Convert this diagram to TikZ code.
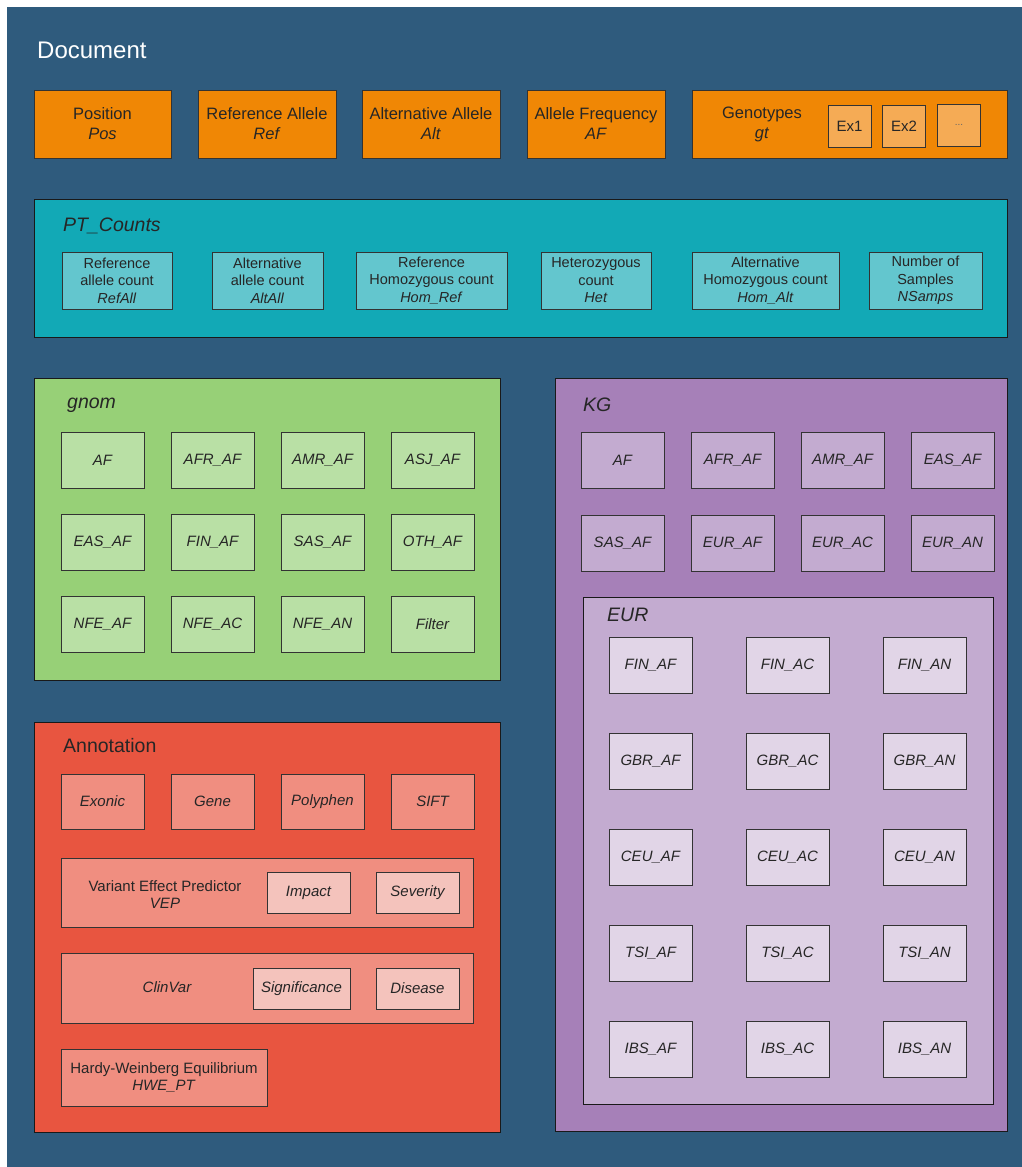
\documentclass[tikz,border=0pt]{standalone}
\usepackage{fontspec}
\setmainfont{Liberation Sans}
\definecolor{docblue}{HTML}{2F5B7D}
\definecolor{dorange}{HTML}{F08705}
\definecolor{lorange}{HTML}{F5AB55}
\definecolor{dteal}{HTML}{12A9B6}
\definecolor{lteal}{HTML}{63C6CE}
\definecolor{dgreen}{HTML}{97D077}
\definecolor{lgreen}{HTML}{B9E0A5}
\definecolor{dpurple}{HTML}{A680B8}
\definecolor{lpurple}{HTML}{C3ABD0}
\definecolor{vlpurple}{HTML}{E1D5E7}
\definecolor{dred}{HTML}{E85540}
\definecolor{lred}{HTML}{F08E80}
\definecolor{vlred}{HTML}{F4C3BC}

\begin{document}
\begin{tikzpicture}[x=1pt, y=-1pt,
    every node/.style={text=black!85},
    group/.style={draw=black!90, line width=1.2pt, anchor=north west, inner sep=0pt},
    item/.style={draw=black!80, line width=1pt, align=center, inner sep=0pt,
        font=\fontsize{15}{17.5}\selectfont},
    topbox/.style={item, fill=dorange, minimum width=138, minimum height=68,
        font=\fontsize{16.5}{20}\selectfont},
    ptbox/.style={item, fill=lteal, minimum height=57, font=\fontsize{14.5}{17.5}\selectfont},
    cell/.style={item, minimum width=83, minimum height=56, font=\fontsize{15}{17.5}\selectfont\itshape},
    grouptitle/.style={anchor=west, inner sep=0pt, font=\fontsize{19.5}{22}\selectfont\itshape}]

    \fill[white] (0,0) rectangle (1022,1167);
    \useasboundingbox (0,0) rectangle (1022,1167);
    \fill[docblue] (7,7) rectangle (1022,1167);

    \node[anchor=west, inner sep=0pt, text=white, font=\fontsize{24}{28}\selectfont]
        (doctitle) at (37,50) {Document};

    \node[topbox, minimum width=137] (pos) at (102.5,124) {Position\\\textit{Pos}};
    \node[topbox] (ref) at (267,124) {Reference Allele\\\textit{Ref}};
    \node[topbox] (alt) at (431,124) {Alternative Allele\\\textit{Alt}};
    \node[topbox] (af) at (596,124) {Allele Frequency\\\textit{AF}};
    \node[topbox, minimum width=315] (gt) at (849.5,124) {};
    \node[align=center, font=\fontsize{16.5}{20}\selectfont]
        (gtlabel) at (762,124) {Genotypes\\\textit{gt}};
    \node[item, fill=lorange, minimum width=43, minimum height=42] (ex1) at (849.5,126) {Ex1};
    \node[item, fill=lorange, minimum width=43, minimum height=42] (ex2) at (904,126) {Ex2};
    \node[item, fill=lorange, minimum width=43, minimum height=42,
        font=\fontsize{10}{12}\selectfont, text=black!60] (exmore) at (959,125) {...};

    \node[group, fill=dteal, minimum width=973, minimum height=138] (ptc) at (34,199) {};
    \node[grouptitle] (ptctitle) at (63,226) {PT\_Counts};
    \foreach \name/\cx/\w/\txt in {
        refall/117/110/{Reference\\allele count\\\textit{RefAll}},
        altall/267.5/111/{Alternative\\allele count\\\textit{AltAll}},
        homref/431.5/151/{Reference\\Homozygous count\\\textit{Hom\_Ref}},
        het/596/110/{Heterozygous\\count\\\textit{Het}},
        homalt/765.5/147/{Alternative\\Homozygous count\\\textit{Hom\_Alt}},
        nsamps/925.5/113/{Number of\\Samples\\\textit{NSamps}}}
        \node[ptbox, minimum width=\w] (\name) at (\cx,280.5) {\txt};

    \node[group, fill=dgreen, minimum width=466, minimum height=302] (gnom) at (34,378) {};
    \node[grouptitle] (gnomtitle) at (67,405) {gnom};
    \foreach \lab [count=\i from 0] in {AF, AFR\_AF, AMR\_AF, ASJ\_AF,
        EAS\_AF, FIN\_AF, SAS\_AF, OTH\_AF, NFE\_AF, NFE\_AC, NFE\_AN, Filter}
        \node[cell, fill=lgreen] (gnom\i) at ({102.5+110*mod(\i,4)}, {460+82*int(\i/4)}) {\lab};

    \node[group, fill=dpurple, minimum width=452, minimum height=753] (kg) at (555,378) {};
    \node[grouptitle] (kgtitle) at (583,405) {KG};
    \foreach \lab [count=\i from 0] in {AF, AFR\_AF, AMR\_AF, EAS\_AF,
        SAS\_AF, EUR\_AF, EUR\_AC, EUR\_AN}
        \node[cell, fill=lpurple] (kg\i) at ({622.5+110*mod(\i,4)}, {460+83.5*int(\i/4)}) {\lab};

    \node[group, fill=lpurple, minimum width=410, minimum height=507] (eur) at (583,597) {};
    \node[grouptitle] (eurtitle) at (607,615) {EUR};
    \foreach \pop [count=\r from 0] in {FIN, GBR, CEU, TSI, IBS}
        \foreach \stat [count=\c from 0] in {AF, AC, AN}
            \node[cell, fill=vlpurple] (\pop\stat) at ({650.5+137*\c}, {665+96*\r}) {\pop\_\stat};

    \node[group, fill=dred, minimum width=466, minimum height=410] (annot) at (34,722) {};
    \node[grouptitle, font=\fontsize{19.5}{22}\selectfont] (annottitle) at (63,746) {Annotation};
    \foreach \lab [count=\i from 0] in {Exonic, Gene, Polyphen, SIFT}
        \node[cell, fill=lred, minimum height=55] (annot\i) at ({102.5+110*\i}, 801.5) {\lab};

    \node[group, draw=black!80, line width=1pt, fill=lred, minimum width=412, minimum height=69]
        (vep) at (61,858) {};
    \node[align=center, font=\fontsize{15}{17.5}\selectfont]
        (veplabel) at (165,894.5) {Variant Effect Predictor\\\textit{VEP}};
    \node[cell, fill=vlred, minimum height=41] (impact) at (308.5,892.5) {Impact};
    \node[cell, fill=vlred, minimum height=41] (severity) at (417.5,892.5) {Severity};

    \node[group, draw=black!80, line width=1pt, fill=lred, minimum width=412, minimum height=70]
        (clinvar) at (61,953) {};
    \node[font=\fontsize{15}{17.5}\selectfont\itshape] (clinvarlabel) at (167,987) {ClinVar};
    \node[cell, fill=vlred, minimum width=97, minimum height=41] (signif) at (301.5,988.5) {Significance};
    \node[cell, fill=vlred, minimum height=41] (disease) at (417.5,988.5) {Disease};

    \node[item, fill=lred, minimum width=206, minimum height=57] (hwe) at (164,1077.5)
        {Hardy-Weinberg Equilibrium\\\textit{HWE\_PT}};
\end{tikzpicture}
\end{document}
